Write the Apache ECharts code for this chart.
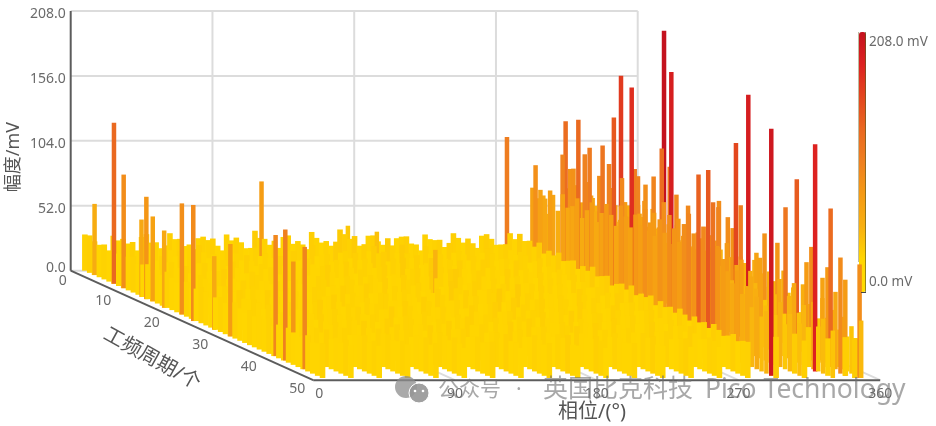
<!DOCTYPE html>
<html><head><meta charset="utf-8">
<style>html,body{margin:0;padding:0;background:#fff}#c{width:936px;height:426px}</style>
<script src="https://cdn.jsdelivr.net/npm/echarts@6/dist/echarts.min.js"></script>
</head><body><div id="c"></div>
<script>
const ampTicks=[0,52,104,156,208];
const phaseTicks=[0,90,180,270,360];
const cycleTicks=[0,10,20,30,40,50];
const phaseBins=[9,27,45,63,81,99,117,135,153,171,189,207,225,243,261,279,297,315,333,351];
// amplitude (mV) for cycles 0..49 in each phase bin
const col009=[29,30,27,26,28,25,27,26,24,27,29,25,26,28,24,27,25,29,26,24,27,28,25,26,29,27,24,26,28,25,27,29,26,24,28,25,27,26,29,24,27,25,28,26,24,27,29,25,26,28];
const col027=[28,26,29,27,30,25,28,26,27,24,29,26,28,25,27,30,26,24,28,27,25,29,26,28,24,27,30,25,26,28,27,24,29,26,25,28,27,26,24,29,25,27,28,26,30,24,27,25,29,26];
const col045=[27,31,26,28,25,29,27,24,30,26,28,25,27,29,24,26,28,31,25,27,26,29,24,28,27,25,30,26,28,24,27,29,25,26,28,27,24,30,26,25,29,27,28,24,26,27,29,25,28,26];
const col063=[30,27,29,25,28,26,31,27,24,29,26,28,25,30,27,24,26,29,28,25,27,26,30,24,28,25,29,27,26,24,28,31,25,27,29,26,24,28,27,25,30,26,24,29,27,28,25,26,28,27];
const col081=[26,29,28,31,27,25,29,26,28,24,30,27,25,28,26,29,24,27,31,25,28,26,27,24,29,28,25,27,30,26,24,28,27,29,25,26,28,24,27,30,25,29,26,28,24,27,26,29,25,28];
const col099=[29,26,30,28,25,27,29,24,28,26,27,31,25,28,24,27,30,26,25,29,28,24,27,26,30,25,28,27,24,29,26,28,25,27,31,24,26,29,28,25,27,24,30,26,28,27,25,29,26,24];
const col117=[32,28,29,26,31,27,25,28,30,24,27,29,26,25,28,31,27,24,26,29,28,25,27,30,24,26,28,29,25,27,24,30,28,26,25,29,27,24,28,26,30,25,27,29,24,26,28,25,27,29];
const col135=[27,30,25,29,28,26,31,24,27,29,25,28,26,30,27,24,29,25,28,27,26,31,24,28,25,29,27,26,24,30,28,25,27,29,26,24,28,27,30,25,26,29,24,27,28,25,30,26,27,24];
const col153=[31,28,26,29,27,32,25,28,24,30,26,29,27,25,28,31,24,27,26,30,28,25,29,24,27,26,31,28,25,27,29,24,26,30,27,25,28,24,29,26,27,31,25,28,24,26,29,27,25,28];
const col171=[33,31,29,33,27,30,26,32,28,31,25,29,27,33,26,28,30,25,27,33,29,24,26,32,28,25,30,27,29,24,26,28,31,25,27,29,24,28,26,30,25,27,29,26,24,28,27,31,25,26];
const col189=[28,30,27,26,33,29,25,33,28,26,30,24,27,33,25,29,26,31,33,28,24,27,30,25,26,29,28,33,24,27,31,25,29,26,28,24,30,27,25,26,29,28,24,31,27,25,26,30,28,24];
const col207=[26,29,31,27,28,25,30,26,24,29,27,28,25,31,26,24,28,30,27,25,29,26,28,24,27,33,25,29,26,28,30,24,27,25,29,26,31,24,28,27,25,30,26,28,24,29,27,25,26,28];
const col225=[29,27,28,30,26,31,25,28,27,24,29,26,30,25,28,27,24,31,26,29,25,27,28,24,30,26,27,25,29,28,24,26,31,27,25,28,29,24,26,30,27,25,28,26,24,29,27,30,25,26];
const col243=[30,28,26,31,29,27,25,30,28,24,27,29,26,31,25,28,27,24,30,26,29,25,28,27,24,26,31,28,25,29,27,24,26,30,28,25,27,29,24,26,28,31,25,27,29,24,26,28,30,25];
const col261=[28,31,29,26,28,30,27,25,29,28,24,27,31,26,28,25,29,27,24,30,26,28,25,27,29,24,28,26,31,25,27,29,24,26,28,30,25,27,24,29,26,28,25,31,27,24,26,29,28,25];
const col279=[30,27,33,29,31,28,33,26,30,28,32,27,29,31,26,30,28,33,27,29,31,25,28,30,27,32,26,29,28,31,25,30,27,29,26,31,28,25,30,27,29,26,31,28,25,27,30,26,28,29];
const col297=[58,62,49,66,55,70,61,64,72,58,66,74,60,69,78,71,64,82,75,68,80,73,88,79,70,85,76,92,83,74,90,100,86,78,95,80,72,84,76,68,60,72,55,63,48,58,44,50,38,33];
const col315=[66,54,72,60,78,69,58,74,64,82,70,60,76,66,56,72,84,62,78,68,90,74,60,82,70,96,64,78,58,86,68,74,60,80,52,66,72,46,62,54,68,44,58,40,52,36,46,32,42,30];
const col333=[52,60,46,66,56,48,62,54,70,50,58,44,64,52,72,48,60,42,56,66,46,54,62,40,58,68,50,44,60,52,64,42,56,48,70,38,54,46,60,34,50,62,40,48,32,54,36,44,30,38];
const col351=[48,54,42,58,50,44,60,46,52,38,48,56,40,50,44,36,54,46,60,40,52,34,48,58,42,50,36,56,44,38,52,46,34,58,42,48,30,54,40,46,32,50,36,44,30,42,28,38,30,46];
const ampByPhase=[col009,col027,col045,col063,col081,col099,col117,col135,col153,col171,col189,col207,col225,col243,col261,col279,col297,col315,col333,col351];
// individual tall discharges
const peakPhase=[9,9,9,8,8,9,9,7,7,115,10,10,10,12,9,8,176,179,173,
 277,289,287,289,292,289,305,300,311,310,310,311,311,316,311,310,311,311,334,310,310,315,314,328,327,326,349,328,329,323,297,297,297,350,330,344,297,331,344,343,347,342,343,344,344,344,345,348,347,344,344,344,347,350,325,331,331,333];
const peakCycle=[6,8,2,12,13,14,20,23,17,2,39,41,45,42,30,27,0,5,19,
 0,2,2,3,3,5,3,4,2,3,4,5,6,5,8,9,10,11,5,13,15,14,15,12,14,16,9,17,17,20,33,35,36,20,30,28,48,46,38,36,44,32,30,34,41,40,44,42,45,47,48,48,49,49,28,28,29,30];
const peakAmp=[129,91,57,62,82,68,89,93,62,75,97,105,98,81,74,59,36,40,50,
 107,88,70,70,63,73,125,100,85,87,128,102,109,67,90,116,103,142,165,97,173,106,102,90,100,126,208,113,189,96,135,142,118,91,155,190,198,182,140,114,127,86,67,82,91,77,80,68,62,93,77,31,32,91,100,92,85,105];
const palette=['#FFDC00','#FFD500','#F8B010','#F59A14','#EF8020','#EA6820','#E3461E','#DD2220','#C4121E'];

const kx=4.85/1.575, ky=2.19/1.248;
const proj=(p,c,a)=>[p+c*kx,a-c*ky];
const bars=[];
phaseBins.forEach((p,i)=>ampByPhase[i].forEach((a,c)=>bars.push([p,c,a])));
peakPhase.forEach((p,i)=>bars.push([p,peakCycle[i],peakAmp[i]]));
bars.sort((u,v)=>u[1]-v[1]||u[0]-v[0]);

const segs=[];
const L='#dcdcdc',D='#5c5c5c';
ampTicks.forEach(a=>{if(a>0)segs.push([0,0,a,360,0,a,L])});
phaseTicks.forEach(p=>{if(p>0)segs.push([p,0,0,p,0,208,L])});
phaseTicks.forEach(p=>{if(p>0)segs.push([p,0,0,p,50,0,L])});
segs.push([0,0,0,360,0,0,L]);
segs.push([0,0,0,0,0,208,D]);
segs.push([0,0,0,0,50,0,D]);
segs.push([0,50,0,360,50,0,D]);

const tickText=[];
cycleTicks.forEach(c=>tickText.push([0,c,0,String(c),c===0?-8:-16,c===0?10:8.5]));
phaseTicks.forEach(p=>tickText.push([p,50,0,String(p),p===0?6:0,14]));

const chart=echarts.init(document.getElementById('c'),null,{renderer:'canvas'});
const labelFont='"Noto Sans","Noto Sans CJK SC",sans-serif';
const wm='rgba(110,110,110,.6)';
chart.setOption({
 animation:false,
 backgroundColor:'#fff',
 grid:{left:70.7,right:14.8,top:11,bottom:25.5,containLabel:false},
 xAxis:{type:'value',min:0,max:540,interval:90,show:false},
 yAxis:{type:'value',min:-104,max:208,interval:52,position:'left',
  axisLine:{show:false},axisTick:{show:false},splitLine:{show:false},
  axisLabel:{margin:5,fontSize:14,color:'#6a6a6a',fontFamily:labelFont,
   formatter:v=>v<0?'':(v===0?'{z|0.0}':'{n|'+v.toFixed(1)+'}'),
   rich:{z:{fontSize:14,color:'#6a6a6a',fontFamily:labelFont,padding:[0,0,6,0]},
         n:{fontSize:14,color:'#6a6a6a',fontFamily:labelFont,padding:[6,0,0,0]}}}},
 visualMap:{type:'continuous',min:0,max:208,dimension:2,seriesIndex:1,left:859,top:32,padding:0,
  itemWidth:7,itemHeight:260,calculable:false,text:null,inRange:{color:palette},z:3},
 series:[
  {type:'custom',name:'frame',coordinateSystem:'cartesian2d',clip:false,silent:true,z:1,
   data:segs,encode:{x:0,y:2},
   renderItem:(pr,api)=>{
    const s=segs[pr.dataIndex];
    const a=api.coord(proj(s[0],s[1],s[2])),b=api.coord(proj(s[3],s[4],s[5]));
    return {type:'line',shape:{x1:a[0],y1:a[1],x2:b[0],y2:b[1]},style:{stroke:s[6],lineWidth:2}};
   }},
  {type:'custom',name:'幅度',coordinateSystem:'cartesian2d',clip:false,silent:true,z:5,progressive:0,
   data:bars,encode:{x:0,y:2},
   renderItem:(pr,api)=>{
    const p=api.value(0),c=api.value(1),a=api.value(2);
    const t=api.coord(proj(p,c,a)),b=api.coord(proj(p,c,0));
    const w=a<34?5.6:4.5;
    return {type:'rect',shape:{x:t[0]-w/2,y:t[1],width:w,height:b[1]-t[1]},style:{fill:api.visual('color')}};
   }},
  {type:'custom',name:'ticks',coordinateSystem:'cartesian2d',clip:false,silent:true,z:6,
   data:tickText,encode:{x:0,y:2},
   renderItem:(pr,api)=>{
    const s=tickText[pr.dataIndex];
    const a=api.coord(proj(s[0],s[1],s[2]));
    return {type:'text',x:a[0]+s[4],y:a[1]+s[5],style:{text:s[3],fill:'#6a6a6a',fontSize:14,fontFamily:labelFont,align:'center',verticalAlign:'middle'}};
   }}
 ],
 graphic:[
  {type:'line',z:7,shape:{x1:858.5,y1:32,x2:858.5,y2:262},style:{stroke:'#6e6a30',lineWidth:1,opacity:.45}},
  {type:'line',z:7,shape:{x1:865.5,y1:32,x2:865.5,y2:292.5},style:{stroke:'#5e5a20',lineWidth:1,opacity:.65}},
  {type:'line',z:7,shape:{x1:861,y1:292.5,x2:866,y2:292.5},style:{stroke:'#444',lineWidth:1}},
  {type:'text',z:7,x:869,y:42,style:{text:'208.0 mV',fill:'#6a6a6a',fontSize:13.5,fontFamily:labelFont,verticalAlign:'middle'}},
  {type:'text',z:7,x:869,y:282,style:{text:'0.0 mV',fill:'#6a6a6a',fontSize:13.5,fontFamily:labelFont,verticalAlign:'middle'}},
  {type:'text',z:7,x:14,y:157,rotation:Math.PI/2,style:{text:'幅度/mV',fill:'#555',fontSize:18,fontFamily:labelFont,align:'center',verticalAlign:'middle'}},
  {type:'text',z:7,x:592,y:412,style:{text:'相位/(°)',fill:'#555',fontSize:20,fontFamily:labelFont,align:'center',verticalAlign:'middle'}},
  {type:'text',z:7,x:152,y:359,rotation:-Math.PI*29/180,style:{text:'工频周期/个',fill:'#555',fontSize:20,fontFamily:labelFont,align:'center',verticalAlign:'middle'}},
  {type:'circle',z:8,shape:{cx:406,cy:387,r:11},style:{fill:'rgba(140,140,140,.75)'}},
  {type:'circle',z:8,shape:{cx:419,cy:393,r:10},style:{fill:'rgba(150,150,150,.9)',stroke:'#fff',lineWidth:1}},
  {type:'circle',z:8,shape:{cx:415,cy:391,r:1.3},style:{fill:'#fff'}},
  {type:'circle',z:8,shape:{cx:423,cy:391,r:1.3},style:{fill:'#fff'}},
  {type:'text',z:8,x:438,y:390,style:{text:'公众号',fill:wm,fontSize:21,fontFamily:labelFont,verticalAlign:'middle'}},
  {type:'text',z:8,x:516,y:390,style:{text:'·',fill:wm,fontSize:21,fontFamily:labelFont,verticalAlign:'middle'}},
  {type:'text',z:8,x:543,y:390,style:{text:'英国比克科技',fill:wm,fontSize:25,fontFamily:labelFont,verticalAlign:'middle'}},
  {type:'text',z:8,x:705,y:390,style:{text:'Pico Technology',fill:wm,fontSize:26.5,fontFamily:labelFont,verticalAlign:'middle'}}
 ]
});
</script></body></html>
